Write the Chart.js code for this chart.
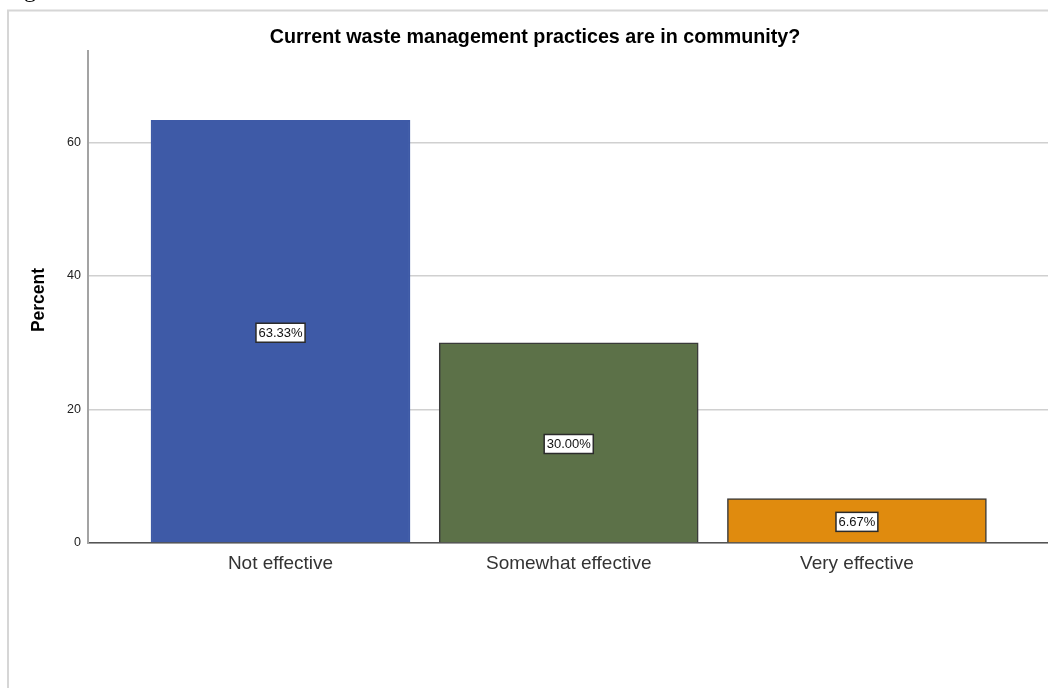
<!DOCTYPE html>
<html>
<head>
<meta charset="utf-8">
<script src="https://cdn.jsdelivr.net/npm/chart.js@4.4.1/dist/chart.umd.min.js"></script>
<style>
  html, body { margin: 0; padding: 0; background: #fff; }
  #wrap { position: relative; width: 1048px; height: 688px; overflow: hidden; }
</style>
</head>
<body>
<div id="wrap"><canvas id="barChart" width="1048" height="688"></canvas></div>
<script>
const categories = ["Not effective", "Somewhat effective", "Very effective"];
const percents = [63.33, 30.00, 6.67];
const barColors = ["#3e5aa7", "#5c7148", "#e08b0e"];
const yTicks = [0, 20, 40, 60];

const FONT = "'Liberation Sans', Arial, sans-serif";

// frame, caption fragment, title and axis title
const decorations = {
  id: "decorations",
  beforeDraw(chart) {
    const ctx = chart.ctx;
    ctx.save();
    ctx.strokeStyle = "#d6d6d6";
    ctx.lineWidth = 2;
    ctx.beginPath();
    ctx.moveTo(8, 700);
    ctx.lineTo(8, 10.5);
    ctx.lineTo(1060, 10.5);
    ctx.stroke();
    ctx.fillStyle = "#000";
    ctx.font = "24px 'Liberation Serif', serif";
    ctx.textBaseline = "alphabetic";
    ctx.fillText("g", 24, -3);
    ctx.restore();
  },
  afterDraw(chart) {
    const ctx = chart.ctx;
    ctx.save();
    ctx.fillStyle = "#000";
    ctx.textAlign = "center";
    ctx.textBaseline = "middle";
    ctx.font = "bold 19.7px " + FONT;
    ctx.fillText("Current waste management practices are in community?", 535, 38);
    ctx.translate(39, 300);
    ctx.rotate(-Math.PI / 2);
    ctx.font = "bold 17.5px " + FONT;
    ctx.fillText("Percent", 0, 0);
    ctx.restore();
  }
};

// boxed percent labels in the middle of each bar
const boxLabels = {
  id: "boxLabels",
  afterDatasetsDraw(chart) {
    const ctx = chart.ctx;
    const meta = chart.getDatasetMeta(0);
    ctx.save();
    ctx.font = "13px " + FONT;
    ctx.textAlign = "center";
    ctx.textBaseline = "middle";
    meta.data.forEach((bar, i) => {
      const text = percents[i].toFixed(2) + "%";
      const cx = bar.x;
      const cy = (bar.y + bar.base) / 2 + 1.5;
      const w = ctx.measureText(text).width + 5;
      const h = 19;
      ctx.fillStyle = "#fff";
      ctx.fillRect(cx - w / 2, cy - h / 2, w, h);
      ctx.strokeStyle = "#2b2b2b";
      ctx.lineWidth = 1.5;
      ctx.strokeRect(cx - w / 2, cy - h / 2, w, h);
      ctx.fillStyle = "#111";
      ctx.fillText(text, cx, cy + 0.5);
    });
    ctx.restore();
  }
};

new Chart(document.getElementById("barChart"), {
  type: "bar",
  data: {
    datasets: [{
      data: percents.map((v, i) => ({ x: i, y: v })),
      backgroundColor: barColors,
      borderColor: ["#3e5aa7", "#3a3a3a", "#3a3a3a"],
      borderWidth: 1.5,
      barThickness: 259
    }]
  },
  options: {
    responsive: false,
    animation: false,
    devicePixelRatio: 1,
    layout: { padding: { top: 51, left: 0, right: 0, bottom: 0 } },
    plugins: {
      legend: { display: false },
      tooltip: { enabled: false }
    },
    scales: {
      x: {
        type: "linear",
        offset: false,
        min: -0.668,
        max: 2.663,
        afterBuildTicks(scale) {
          scale.ticks = categories.map((c, i) => ({ value: i }));
        },
        afterFit(scale) { scale.height = 145; },
        grid: { display: false, drawTicks: false },
        border: { display: true, color: "#555", width: 1.5 },
        ticks: {
          padding: 9,
          color: "#333",
          font: { family: FONT, size: 19 },
          callback: (v) => categories[v]
        }
      },
      y: {
        min: 0,
        max: 73.7,
        afterBuildTicks(scale) {
          scale.ticks = yTicks.map(v => ({ value: v }));
        },
        afterFit(scale) { scale.width = 88; },
        grid: { color: "#d0d0d0", lineWidth: 1.5, drawTicks: false },
        border: { display: true, color: "#a3a3a3", width: 2 },
        ticks: {
          padding: 7,
          color: "#222",
          font: { family: FONT, size: 12.5 }
        }
      }
    }
  },
  plugins: [decorations, boxLabels]
});
</script>
</body>
</html>
